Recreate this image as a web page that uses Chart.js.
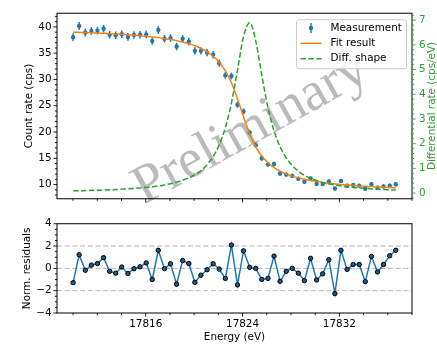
<!DOCTYPE html>
<html>
<head>
<meta charset="utf-8">
<script src="https://cdn.jsdelivr.net/npm/chart.js@4.4.1/dist/chart.umd.min.js"></script>
<style>
  html, body { margin: 0; padding: 0; background: #fff; }
  #wrap { position: relative; width: 437px; height: 345px; background: #fff; overflow: hidden; }
  #topPanel { position: absolute; left: 0; top: 0; }
  #residPanel { position: absolute; left: 0; top: 212px; }
</style>
</head>
<body>
<div id="wrap">
  <canvas id="topPanel" width="437" height="212"></canvas>
  <canvas id="residPanel" width="437" height="133"></canvas>
</div>
<script>
// Scan energies (eV)
const energies = [
  17810.00, 17810.50, 17811.01, 17811.51, 17812.01, 17812.52, 17813.02, 17813.52, 17814.02, 17814.53,
  17815.03, 17815.53, 17816.04, 17816.54, 17817.04, 17817.55, 17818.05, 17818.55, 17819.05, 17819.56,
  17820.06, 17820.56, 17821.07, 17821.57, 17822.07, 17822.58, 17823.08, 17823.58, 17824.08, 17824.59,
  17825.09, 17825.59, 17826.10, 17826.60, 17827.10, 17827.61, 17828.11, 17828.61, 17829.11, 17829.62,
  17830.12, 17830.62, 17831.13, 17831.63, 17832.13, 17832.64, 17833.14, 17833.64, 17834.14, 17834.65,
  17835.15, 17835.65, 17836.16, 17836.66
];

// Measured count rate (cps) and its uncertainty
const countRate = [
  38.05, 40.18, 38.93, 39.23, 39.29, 39.64, 38.50, 38.40, 38.60, 38.10,
  38.46, 38.50, 38.58, 37.34, 39.40, 37.75, 37.87, 36.27, 37.75, 37.20,
  35.44, 35.44, 35.10, 34.70, 33.10, 30.80, 30.65, 25.20, 23.90, 19.90,
  17.50, 15.00, 13.85, 13.90, 12.10, 11.90, 11.65, 11.10, 10.55, 11.15,
  10.10, 10.10, 10.60, 9.24, 10.70, 9.80, 9.93, 9.80, 9.20, 10.05,
  9.42, 9.64, 9.80, 10.05
];
const countErr = [
  0.73, 0.75, 0.74, 0.74, 0.74, 0.74, 0.73, 0.73, 0.73, 0.73,
  0.73, 0.73, 0.73, 0.72, 0.74, 0.72, 0.73, 0.71, 0.72, 0.72,
  0.70, 0.70, 0.70, 0.70, 0.68, 0.65, 0.65, 0.59, 0.58, 0.53,
  0.49, 0.46, 0.44, 0.44, 0.41, 0.41, 0.40, 0.39, 0.38, 0.39,
  0.37, 0.37, 0.38, 0.36, 0.38, 0.37, 0.37, 0.37, 0.36, 0.37,
  0.36, 0.37, 0.37, 0.37
];

// Fitted edge model (cps)
const fitRate = [
  39.00, 38.96, 38.92, 38.87, 38.83, 38.77, 38.71, 38.65, 38.58, 38.50,
  38.42, 38.32, 38.22, 38.09, 37.96, 37.79, 37.61, 37.39, 37.11, 36.78,
  36.40, 35.90, 35.26, 34.41, 33.27, 31.62, 29.36, 26.35, 22.90, 19.65,
  17.19, 15.43, 14.15, 13.24, 12.56, 12.02, 11.61, 11.27, 11.00, 10.76,
  10.57, 10.40, 10.25, 10.13, 10.01, 9.91, 9.82, 9.74, 9.67, 9.61,
  9.55, 9.49, 9.44, 9.39
];

// Differential shape (cps/eV), right axis
const diffShape = [
  0.09, 0.09, 0.10, 0.11, 0.11, 0.12, 0.13, 0.14, 0.16, 0.17,
  0.19, 0.21, 0.23, 0.26, 0.29, 0.33, 0.38, 0.44, 0.52, 0.62,
  0.74, 0.91, 1.15, 1.48, 1.95, 2.65, 3.64, 4.97, 6.33, 6.90,
  6.16, 4.77, 3.46, 2.52, 1.87, 1.42, 1.11, 0.89, 0.72, 0.60,
  0.51, 0.43, 0.37, 0.33, 0.29, 0.25, 0.23, 0.21, 0.19, 0.17,
  0.15, 0.14, 0.13, 0.12
];

// Normalised residuals
const residuals = [
  -1.28, 1.22, -0.17, 0.29, 0.43, 0.96, -0.26, -0.43, 0.12, -0.46,
  -0.03, 0.14, 0.49, -0.99, 1.62, -0.03, 0.41, -1.42, 0.70, 0.43,
  -1.25, -0.61, -0.12, 0.41, -0.06, -0.90, 2.09, -1.48, 1.57, 0.09,
  0.00, -0.99, -0.90, 1.10, -1.16, -0.26, 0.00, -0.43, -1.10, 0.90,
  -1.04, -0.49, 0.78, -2.26, 1.62, -0.09, 0.35, 0.35, -1.19, 1.07,
  -0.32, 0.35, 1.13, 1.62
];

const seriesNames = ['Measurement', 'Fit result', 'Diff. shape'];
const countTicks = [10, 15, 20, 25, 30, 35, 40];
const diffTicks = [0, 1, 2, 3, 4, 5, 6, 7];
const energyTicks = [17816, 17824, 17832];
const residTicks = [-4, -2, 0, 2, 4];
const residGuides = [-2, 0, 2];

const BLUE = '#1f77b4', ORANGE = '#ff7f0e', GREEN = '#2ca02c';
const FONT = 'DejaVu Sans';
const FS = 10.4;

Chart.defaults.font.family = FONT;
Chart.defaults.font.size = FS;
Chart.defaults.color = '#000';

const fixedTicks = values => scale => { scale.ticks = values.map(v => ({ value: v })); };
const signed = v => (v < 0 ? '\u2212' + Math.abs(v) : String(v));
const xy = (ys) => energies.map((e, i) => ({ x: e, y: ys[i] }));
const noGrid = { display: false, drawTicks: false };

// outward tick marks with minor subdivisions
function tickMarks(ctx, chart, scale, majors, minorStep, color) {
  const a = chart.chartArea;
  const kmin = Math.ceil(scale.min / minorStep - 1e-6);
  const kmax = Math.floor(scale.max / minorStep + 1e-6);
  ctx.save();
  ctx.strokeStyle = color;
  ctx.lineWidth = 0.9;
  for (let k = kmin; k <= kmax; k++) {
    const v = k * minorStep;
    const major = majors.some(m => Math.abs(m - v) < 1e-6);
    const len = major ? 3.6 : 2.1;
    const p = scale.getPixelForValue(v);
    ctx.beginPath();
    if (scale.position === 'left') { ctx.moveTo(a.left, p); ctx.lineTo(a.left - len, p); }
    else if (scale.position === 'right') { ctx.moveTo(a.right, p); ctx.lineTo(a.right + len, p); }
    else { ctx.moveTo(p, a.bottom); ctx.lineTo(p, a.bottom + len); }
    ctx.stroke();
  }
  ctx.restore();
}

function frame(ctx, a) {
  ctx.save();
  ctx.strokeStyle = '#000';
  ctx.lineWidth = 1;
  ctx.strokeRect(a.left, a.top, a.right - a.left, a.bottom - a.top);
  ctx.restore();
}

const topDecor = {
  id: 'topDecor',
  beforeDatasetsDraw(chart) {
    const { ctx, chartArea: a, scales } = chart;
    // watermark
    ctx.save();
    ctx.translate(a.left + 0.546 * (a.right - a.left), a.top + 0.625 * (a.bottom - a.top));
    ctx.rotate(-29 * Math.PI / 180);
    ctx.font = '55px "Liberation Serif"';
    ctx.fillStyle = 'rgba(120,120,120,0.5)';
    ctx.textAlign = 'center';
    ctx.textBaseline = 'middle';
    ctx.fillText('Preliminary', 0, 0);
    ctx.restore();
    // error bars of the measurement
    ctx.save();
    ctx.strokeStyle = BLUE;
    ctx.lineWidth = 1.5;
    energies.forEach((e, i) => {
      const px = scales.x.getPixelForValue(e);
      ctx.beginPath();
      ctx.moveTo(px, scales.y.getPixelForValue(countRate[i] - countErr[i]));
      ctx.lineTo(px, scales.y.getPixelForValue(countRate[i] + countErr[i]));
      ctx.stroke();
    });
    ctx.restore();
  },
  afterDatasetsDraw(chart) {
    const { ctx, chartArea: a } = chart;
    // legend
    const bw = 110, bh = 49;
    const bx = a.right - bw - 5.5, by = a.top + 6.5;
    ctx.save();
    ctx.beginPath();
    ctx.roundRect(bx, by, bw, bh, 2.5);
    ctx.fillStyle = 'rgba(255,255,255,0.8)';
    ctx.fill();
    ctx.strokeStyle = '#cccccc';
    ctx.lineWidth = 1;
    ctx.stroke();
    const hx0 = bx + 4, hx1 = bx + 25, hxc = (hx0 + hx1) / 2, tx = bx + 34;
    const rows = [by + 8.3, by + 23.6, by + 39];
    // errorbar handle
    ctx.strokeStyle = BLUE; ctx.lineWidth = 1.5;
    ctx.beginPath(); ctx.moveTo(hxc, rows[0] - 5); ctx.lineTo(hxc, rows[0] + 5); ctx.stroke();
    ctx.fillStyle = BLUE;
    ctx.beginPath(); ctx.arc(hxc, rows[0], 2.2, 0, Math.PI * 2); ctx.fill();
    // fit handle
    ctx.strokeStyle = ORANGE; ctx.lineWidth = 1.5;
    ctx.beginPath(); ctx.moveTo(hx0, rows[1]); ctx.lineTo(hx1, rows[1]); ctx.stroke();
    // diff handle
    ctx.strokeStyle = GREEN; ctx.setLineDash([5.5, 2.4]);
    ctx.beginPath(); ctx.moveTo(hx0, rows[2]); ctx.lineTo(hx1, rows[2]); ctx.stroke();
    ctx.setLineDash([]);
    ctx.fillStyle = '#000';
    ctx.font = FS + 'px "' + FONT + '"';
    ctx.textAlign = 'left';
    ctx.textBaseline = 'middle';
    seriesNames.forEach((n, i) => ctx.fillText(n, tx, rows[i]));
    ctx.restore();
  },
  afterDraw(chart) {
    const { ctx, chartArea: a, scales } = chart;
    frame(ctx, a);
    tickMarks(ctx, chart, scales.y, countTicks, 1, '#000');
    tickMarks(ctx, chart, scales.y2, diffTicks, 0.2, GREEN);
    tickMarks(ctx, chart, scales.x, energyTicks, 2, '#000');
    // right-hand axis title, reading bottom to top
    ctx.save();
    ctx.translate(432, (a.top + a.bottom) / 2);
    ctx.rotate(-Math.PI / 2);
    ctx.font = FS + 'px "' + FONT + '"';
    ctx.fillStyle = GREEN;
    ctx.textAlign = 'center';
    ctx.textBaseline = 'middle';
    ctx.fillText('Differential rate (cps/eV)', 0, 0);
    ctx.restore();
  }
};

new Chart(document.getElementById('topPanel'), {
  type: 'scatter',
  data: {
    datasets: [
      {
        label: seriesNames[2], type: 'line', data: xy(diffShape), yAxisID: 'y2',
        borderColor: GREEN, borderWidth: 1.5, borderDash: [5.5, 2.4],
        pointRadius: 0, fill: false, cubicInterpolationMode: 'monotone', order: 0
      },
      {
        label: seriesNames[1], type: 'line', data: xy(fitRate), yAxisID: 'y',
        borderColor: ORANGE, borderWidth: 1.5,
        pointRadius: 0, fill: false, cubicInterpolationMode: 'monotone', order: 1
      },
      {
        label: seriesNames[0], type: 'scatter', data: xy(countRate), yAxisID: 'y',
        backgroundColor: BLUE, borderColor: BLUE, borderWidth: 0, pointRadius: 2.2, order: 2
      }
    ]
  },
  options: {
    responsive: false,
    animation: false,
    devicePixelRatio: 1,
    layout: { padding: { top: 5.5, left: 0, right: 0, bottom: 0 } },
    plugins: { legend: { display: false }, tooltip: { enabled: false } },
    scales: {
      x: {
        type: 'linear', min: 17808.67, max: 17838,
        grid: noGrid, border: { display: false },
        ticks: { display: false },
        afterFit: s => { s.height = 8; }
      },
      y: {
        position: 'left', min: 7.3, max: 42.6,
        afterBuildTicks: fixedTicks(countTicks),
        grid: noGrid, border: { display: false },
        ticks: { padding: 5.5, callback: v => String(v) },
        title: { display: true, text: 'Count rate (cps)', padding: { top: 23, bottom: 0 } },
        afterFit: s => { s.width = 57; }
      },
      y2: {
        position: 'right', min: -0.23, max: 7.28,
        afterBuildTicks: fixedTicks(diffTicks),
        grid: noGrid, border: { display: false },
        ticks: { padding: 7, color: GREEN, callback: v => String(v) },
        afterFit: s => { s.width = 25; }
      }
    }
  },
  plugins: [topDecor]
});

const residDecor = {
  id: 'residDecor',
  beforeDatasetsDraw(chart) {
    const { ctx, chartArea: a, scales } = chart;
    ctx.save();
    ctx.strokeStyle = '#b4b4b4';
    ctx.lineWidth = 1;
    ctx.setLineDash([5, 2.7]);
    residGuides.forEach(g => {
      const py = scales.y.getPixelForValue(g);
      ctx.beginPath(); ctx.moveTo(a.left, py); ctx.lineTo(a.right, py); ctx.stroke();
    });
    ctx.restore();
  },
  afterDraw(chart) {
    const { ctx, chartArea: a, scales } = chart;
    frame(ctx, a);
    tickMarks(ctx, chart, scales.y, residTicks, 0.5, '#000');
    tickMarks(ctx, chart, scales.x, energyTicks, 2, '#000');
  }
};

new Chart(document.getElementById('residPanel'), {
  type: 'line',
  data: {
    datasets: [{
      label: 'Norm. residuals', data: xy(residuals),
      borderColor: BLUE, borderWidth: 1.5, tension: 0,
      pointRadius: 2.2, pointBackgroundColor: '#1f5a8a', pointBorderColor: '#000', pointBorderWidth: 1
    }]
  },
  options: {
    responsive: false,
    animation: false,
    devicePixelRatio: 1,
    layout: { padding: { top: 10, left: 0, right: 25, bottom: 0 } },
    plugins: { legend: { display: false }, tooltip: { enabled: false } },
    scales: {
      x: {
        type: 'linear', min: 17808.67, max: 17838,
        afterBuildTicks: fixedTicks(energyTicks),
        grid: noGrid, border: { display: false },
        ticks: { padding: 5.3, maxRotation: 0, callback: v => String(v) },
        title: { display: true, text: 'Energy (eV)', padding: { top: 0, bottom: 1.3 } },
        afterFit: s => { s.height = 32; }
      },
      y: {
        position: 'left', min: -4, max: 4,
        afterBuildTicks: fixedTicks(residTicks),
        grid: noGrid, border: { display: false },
        ticks: { padding: 5.5, callback: v => signed(v) },
        title: { display: true, text: 'Norm. residuals', padding: { top: 20.8, bottom: 0 } },
        afterFit: s => { s.width = 57; }
      }
    }
  },
  plugins: [residDecor]
});
</script>
</body>
</html>
